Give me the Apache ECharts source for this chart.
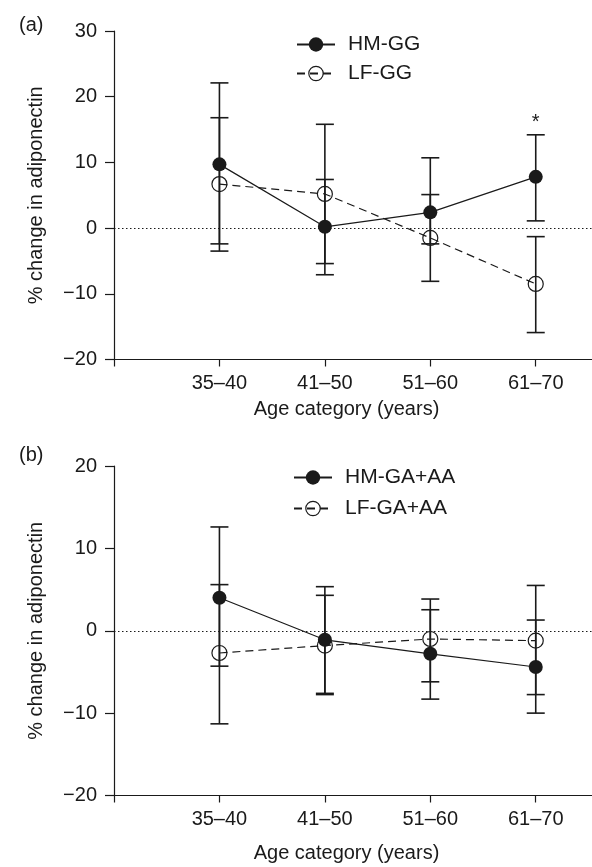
<!DOCTYPE html>
<html><head><meta charset="utf-8">
<script src="https://cdn.jsdelivr.net/npm/echarts@6/dist/echarts.min.js"></script>
<style>html,body{margin:0;padding:0;background:#fff}#c{width:592px;height:867px}</style>
</head><body><div id="c"></div>
<script>
// ---- data ----
const ages = ['35–40', '41–50', '51–60', '61–70'];

// panel (a): GG genotype
const hmGG     = [9.7, 0.2, 2.4, 7.8];
const hmGGLow  = [-2.4, -7.1, -2.4, 1.1];
const hmGGHigh = [22.1, 7.4, 10.7, 14.2];
const lfGG     = [6.7, 5.2, -1.5, -8.5];
const lfGGLow  = [-3.5, -5.4, -8.1, -15.9];
const lfGGHigh = [16.8, 15.8, 5.1, -1.3];
const sigMarksA = [['61–70', 16.0]];

// panel (b): GA+AA genotype
const hmGA     = [4.0, -1.1, -2.8, -4.4];
const hmGALow  = [-4.3, -7.6, -8.3, -10.0];
const hmGAHigh = [12.6, 5.35, 2.55, 1.3];
const lfGA     = [-2.7, -1.8, -1.0, -1.2];
const lfGALow  = [-11.3, -7.75, -6.2, -7.75];
const lfGAHigh = [5.6, 4.3, 3.85, 5.5];

const yTicksA = [-20, 30, 10];
const yTicksB = [-20, 20, 10];

// ---- chart ----
const FONT = '"Liberation Sans", Arial, Helvetica, sans-serif';
const INK = '#1a1a1a';
const chart = echarts.init(document.getElementById('c'), null, {renderer: 'canvas'});

const pos = a => ages.indexOf(a) + 1;
const pts = vals => vals.map((v, i) => [i + 1, v]);
const bars = (lo, hi) => lo.map((l, i) => [i + 1, l, hi[i]]);

function errSeries(idx, lo, hi) {
  return {
    type: 'custom', xAxisIndex: idx, yAxisIndex: idx, silent: true, z: 1,
    data: bars(lo, hi),
    renderItem(params, api) {
      const x = api.value(0);
      const a = api.coord([x, api.value(1)]);
      const b = api.coord([x, api.value(2)]);
      const w = 9;
      const st = {stroke: INK, lineWidth: 1.6};
      return {type: 'group', children: [
        {type: 'line', shape: {x1: a[0], y1: a[1], x2: b[0], y2: b[1]}, style: st},
        {type: 'line', shape: {x1: a[0] - w, y1: a[1], x2: a[0] + w, y2: a[1]}, style: st},
        {type: 'line', shape: {x1: b[0] - w, y1: b[1], x2: b[0] + w, y2: b[1]}, style: st}
      ]};
    }
  };
}

function hmSeries(name, idx, vals) {
  return {
    name, type: 'line', xAxisIndex: idx, yAxisIndex: idx, data: pts(vals), z: 3,
    symbol: 'circle', symbolSize: 14,
    itemStyle: {color: INK},
    lineStyle: {color: INK, width: 1.2},
    markLine: {
      silent: true, symbol: 'none', label: {show: false},
      lineStyle: {color: INK, width: 1.2, type: [1.5, 2.5]},
      data: [{yAxis: 0}]
    }
  };
}
function lfSeries(name, idx, vals) {
  return {
    name, type: 'line', xAxisIndex: idx, yAxisIndex: idx, data: pts(vals), z: 3,
    symbol: 'circle', symbolSize: 15,
    itemStyle: {color: 'rgba(0,0,0,0)', borderColor: INK, borderWidth: 1.2},
    lineStyle: {color: INK, width: 1.2, type: [8, 5]}
  };
}

function xAxis(idx, nameGap) {
  return {
    type: 'value', gridIndex: idx, min: 0, max: 4.6, interval: 1,
    axisLine: {show: true, onZero: false, lineStyle: {color: INK, width: 1.2}},
    axisTick: {show: true, length: 7, lineStyle: {color: INK, width: 1.2}},
    axisLabel: {formatter: v => ages[v - 1] || '', fontSize: 20, color: INK, margin: 14, fontFamily: FONT},
    splitLine: {show: false},
    name: 'Age category (years)', nameLocation: 'middle', nameGap: nameGap,
    nameTextStyle: {fontSize: 20, color: INK, fontFamily: FONT, padding: [0, 20, 0, 0]}
  };
}
function yAxis(idx, t) {
  return {
    type: 'value', gridIndex: idx, min: t[0], max: t[1], interval: t[2],
    axisLine: {show: true, onZero: false, lineStyle: {color: INK, width: 1.2}},
    axisTick: {show: true, length: 9, lineStyle: {color: INK, width: 1.2}},
    axisLabel: {fontSize: 20, color: INK, margin: 17, fontFamily: FONT,
                formatter: v => (v < 0 ? '\u2212' + Math.abs(v) : String(v))},
    splitLine: {show: false},
    name: '% change in adiponectin', nameLocation: 'middle', nameGap: 68, nameRotate: 90,
    nameTextStyle: {fontSize: 20, color: INK, fontFamily: FONT}
  };
}

const lfLegendStyle = {color: 'rgba(0,0,0,0)', borderColor: INK, borderWidth: 1.2};
function legend(names, top, left, gap) {
  return {
    orient: 'vertical', left, top, itemWidth: 38, itemHeight: 18, itemGap: gap,
    data: [{name: names[0]}, {name: names[1], itemStyle: lfLegendStyle}],
    textStyle: {fontSize: 21, color: INK, fontFamily: FONT, padding: [0, 0, 0, 8]},
    selectedMode: false
  };
}

function sigSeries(idx, marks) {
  return {
    type: 'custom', xAxisIndex: idx, yAxisIndex: idx, silent: true, z: 4,
    data: marks.map(m => [pos(m[0]), m[1]]),
    renderItem(params, api) {
      const p = api.coord([api.value(0), api.value(1)]);
      return {type: 'text', x: p[0], y: p[1],
        style: {text: '*', fontSize: 20, fontFamily: FONT, fill: INK, align: 'center', verticalAlign: 'middle'}};
    }
  };
}

chart.setOption({
  animation: false,
  backgroundColor: '#fff',
  title: [
    {text: '(a)', left: 14, top: 10, textStyle: {fontSize: 20, fontWeight: 'normal', color: INK, fontFamily: FONT}},
    {text: '(b)', left: 14, top: 440, textStyle: {fontSize: 20, fontWeight: 'normal', color: INK, fontFamily: FONT}}
  ],
  grid: [
    {left: 114, top: 31, width: 485, height: 328.5, containLabel: false, outerBoundsMode: 'none'},
    {left: 114, top: 466, width: 485, height: 329.5, containLabel: false, outerBoundsMode: 'none'}
  ],
  xAxis: [xAxis(0, 40), xAxis(1, 48)],
  yAxis: [yAxis(0, yTicksA), yAxis(1, yTicksB)],
  legend: [
    legend(['HM-GG', 'LF-GG'], 29, 291, 8),
    legend(['HM-GA+AA', 'LF-GA+AA'], 462, 288, 10)
  ],
  series: [
    errSeries(0, hmGGLow, hmGGHigh),
    errSeries(0, lfGGLow, lfGGHigh),
    hmSeries('HM-GG', 0, hmGG),
    lfSeries('LF-GG', 0, lfGG),
    sigSeries(0, sigMarksA),
    errSeries(1, hmGALow, hmGAHigh),
    errSeries(1, lfGALow, lfGAHigh),
    hmSeries('HM-GA+AA', 1, hmGA),
    lfSeries('LF-GA+AA', 1, lfGA)
  ]
});
</script>
</body></html>
